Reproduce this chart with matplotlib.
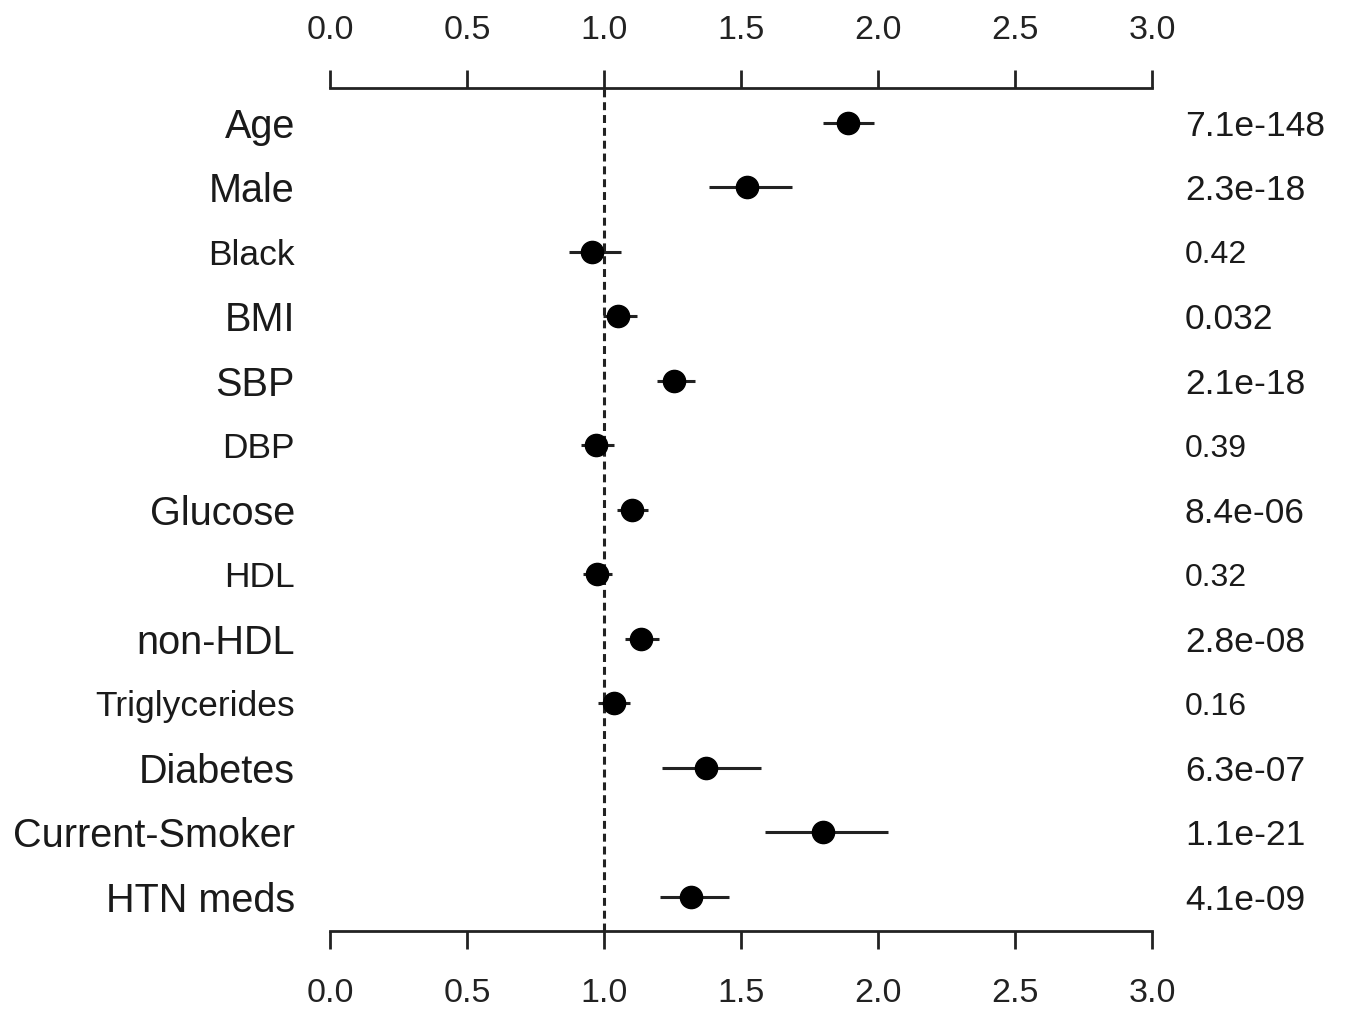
import matplotlib
matplotlib.use("Agg")
import matplotlib.pyplot as plt
from matplotlib.transforms import ScaledTranslation

plt.rcParams['font.family'] = ['Liberation Sans', 'DejaVu Sans']

# Datos: odds ratio y su intervalo de confianza
variables = ['Age', 'Male', 'Black', 'BMI', 'SBP', 'DBP', 'Glucose', 'HDL',
             'non-HDL', 'Triglycerides', 'Diabetes', 'Current-Smoker', 'HTN meds']
estimate = [1.889, 1.521, 0.955, 1.051, 1.255, 0.970, 1.102, 0.973,
            1.134, 1.036, 1.372, 1.798, 1.318]
ci_low = [1.799, 1.383, 0.872, 0.998, 1.192, 0.915, 1.047, 0.923,
          1.077, 0.978, 1.211, 1.588, 1.204]
ci_high = [1.985, 1.685, 1.062, 1.119, 1.332, 1.036, 1.159, 1.028,
           1.201, 1.095, 1.572, 2.036, 1.455]
p_values = ['7.1e-148', '2.3e-18', '0.42', '0.032', '2.1e-18', '0.39', '8.4e-06',
            '0.32', '2.8e-08', '0.16', '6.3e-07', '1.1e-21', '4.1e-09']
xticks = [0.0, 0.5, 1.0, 1.5, 2.0, 2.5, 3.0]

fig = plt.figure(figsize=(13.45, 10.13), dpi=100)
ax = fig.add_axes([330 / 1345, 1 - 931 / 1013, 822 / 1345, (931 - 88) / 1013])

filas = list(range(1, len(variables) + 1))

# Linea de referencia en 1
ax.axvline(1.0, color='#222222', linestyle=(0, (2.6, 1.6)), linewidth=2.2, zorder=1)

# Intervalos y puntos
ax.hlines(filas, ci_low, ci_high, color='#222222', linewidth=2.2, zorder=2)
ax.plot(estimate, filas, 'o', color='black', markersize=16, zorder=3)

ax.set_xlim(0, 3)
ax.set_ylim(13.532, 0.462)
ax.set_yticks([])
ax.set_xticks(xticks)
ax.set_xticklabels([f'{t:.1f}' for t in xticks])

for lado in ['left', 'right']:
    ax.spines[lado].set_visible(False)
for lado in ['top', 'bottom']:
    ax.spines[lado].set_linewidth(2)
    ax.spines[lado].set_color('#222222')
    ax.spines[lado].set_bounds(0, 3)

ax.tick_params(axis='x', top=True, labeltop=True, bottom=True, labelbottom=True,
               direction='out', length=13, width=2, color='#222222',
               labelsize=24.5, labelcolor='#222222', pad=17)

# bajar un poco las etiquetas del eje inferior
desplaza = ScaledTranslation(0, -5 / 100, fig.dpi_scale_trans)
for tick in ax.xaxis.get_major_ticks():
    tick.label1.set_transform(tick.label1.get_transform() + desplaza)

# Etiquetas a la izquierda y p-valores a la derecha
trans = ax.get_yaxis_transform()
for fila, nombre, p in zip(filas, variables, p_values):
    signif = float(p) < 0.05
    ax.text(-0.0426, fila, nombre, transform=trans, ha='right', va='center_baseline',
            fontsize=28.5 if signif else 25.5, color='#1a1a1a')
    ax.text(1.0401, fila, p, transform=trans, ha='left', va='center_baseline',
            fontsize=25.5 if signif else 23, color='#1a1a1a')

fig.savefig('out.png', dpi=100)
